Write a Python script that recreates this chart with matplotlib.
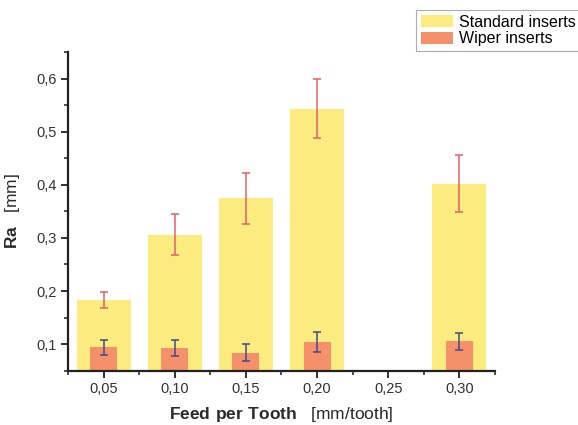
import numpy as np
import matplotlib
matplotlib.use("Agg")
import matplotlib.pyplot as plt
from matplotlib.ticker import MultipleLocator, FuncFormatter

plt.rcParams['font.family'] = ['Liberation Sans', 'DejaVu Sans']
plt.rcParams['mathtext.fontset'] = 'custom'
plt.rcParams['mathtext.rm'] = 'Liberation Sans'
plt.rcParams['mathtext.bf'] = 'Liberation Sans:bold'

# data
feed = [0.05, 0.10, 0.15, 0.20, 0.25, 0.30]
standard = [0.183, 0.306, 0.375, 0.544, np.nan, 0.402]
standard_err = [0.015, 0.039, 0.048, 0.056, np.nan, 0.054]
wiper = [0.094, 0.093, 0.084, 0.104, np.nan, 0.105]
wiper_err = [0.014, 0.015, 0.016, 0.018, np.nan, 0.016]

yellow = '#fcec80'
orange = '#f4906a'

fig = plt.figure(figsize=(5.78, 4.25), dpi=100)
ax = fig.add_axes([0.118, 0.128, 0.738, 0.749])

ax.bar(feed, standard, width=0.038, color=yellow, label='Standard inserts', zorder=1)
ax.bar(feed, wiper, width=0.019, color=orange, label='Wiper inserts', zorder=2)
ax.errorbar(feed, standard, yerr=standard_err, fmt='none', ecolor='#e4606a',
            elinewidth=1.1, capsize=3, capthick=1.1, zorder=3)
ax.errorbar(feed, wiper, yerr=wiper_err, fmt='none', ecolor='#404a8c',
            elinewidth=1.1, capsize=3, capthick=1.1, zorder=3)

ax.set_xlim(0.025, 0.325)
ax.set_ylim(0.05, 0.65)
ax.set_xticks(feed)
ax.set_yticks([0.1, 0.2, 0.3, 0.4, 0.5, 0.6])
ax.xaxis.set_minor_locator(MultipleLocator(0.025))
ax.yaxis.set_minor_locator(MultipleLocator(0.05))
ax.xaxis.set_major_formatter(FuncFormatter(lambda v, p: f'{v:.2f}'.replace('.', ',')))
ax.yaxis.set_major_formatter(FuncFormatter(lambda v, p: f'{v:.1f}'.replace('.', ',')))

for s in ['top', 'right']:
    ax.spines[s].set_visible(False)
for s in ['left', 'bottom']:
    ax.spines[s].set_linewidth(1.6)
    ax.spines[s].set_color('#222222')
ax.tick_params(which='major', direction='out', length=5, width=1.3, labelsize=10.5,
               colors='#222222', labelcolor='#333333')
ax.tick_params(which='minor', direction='out', length=3, width=1.1, colors='#222222')

ax.set_xlabel(r'$\mathbf{Feed\ per\ Tooth}$   [mm/tooth]', fontsize=12.5,
              color='#2a2a2a', labelpad=6)
ax.set_ylabel(r'$\mathbf{Ra}$   [mm]', fontsize=12.5, color='#2a2a2a', labelpad=10)

leg = fig.legend(loc='upper left', bbox_to_anchor=(0.72, 0.977), fontsize=11.5,
                 frameon=True, fancybox=False, borderpad=0.3, labelspacing=0.1,
                 handlelength=2.0, handleheight=0.8, handletextpad=0.4,
                 borderaxespad=0)
leg.get_frame().set_edgecolor('#999999')
leg.get_frame().set_linewidth(0.8)

fig.savefig('out.png', dpi=100)
